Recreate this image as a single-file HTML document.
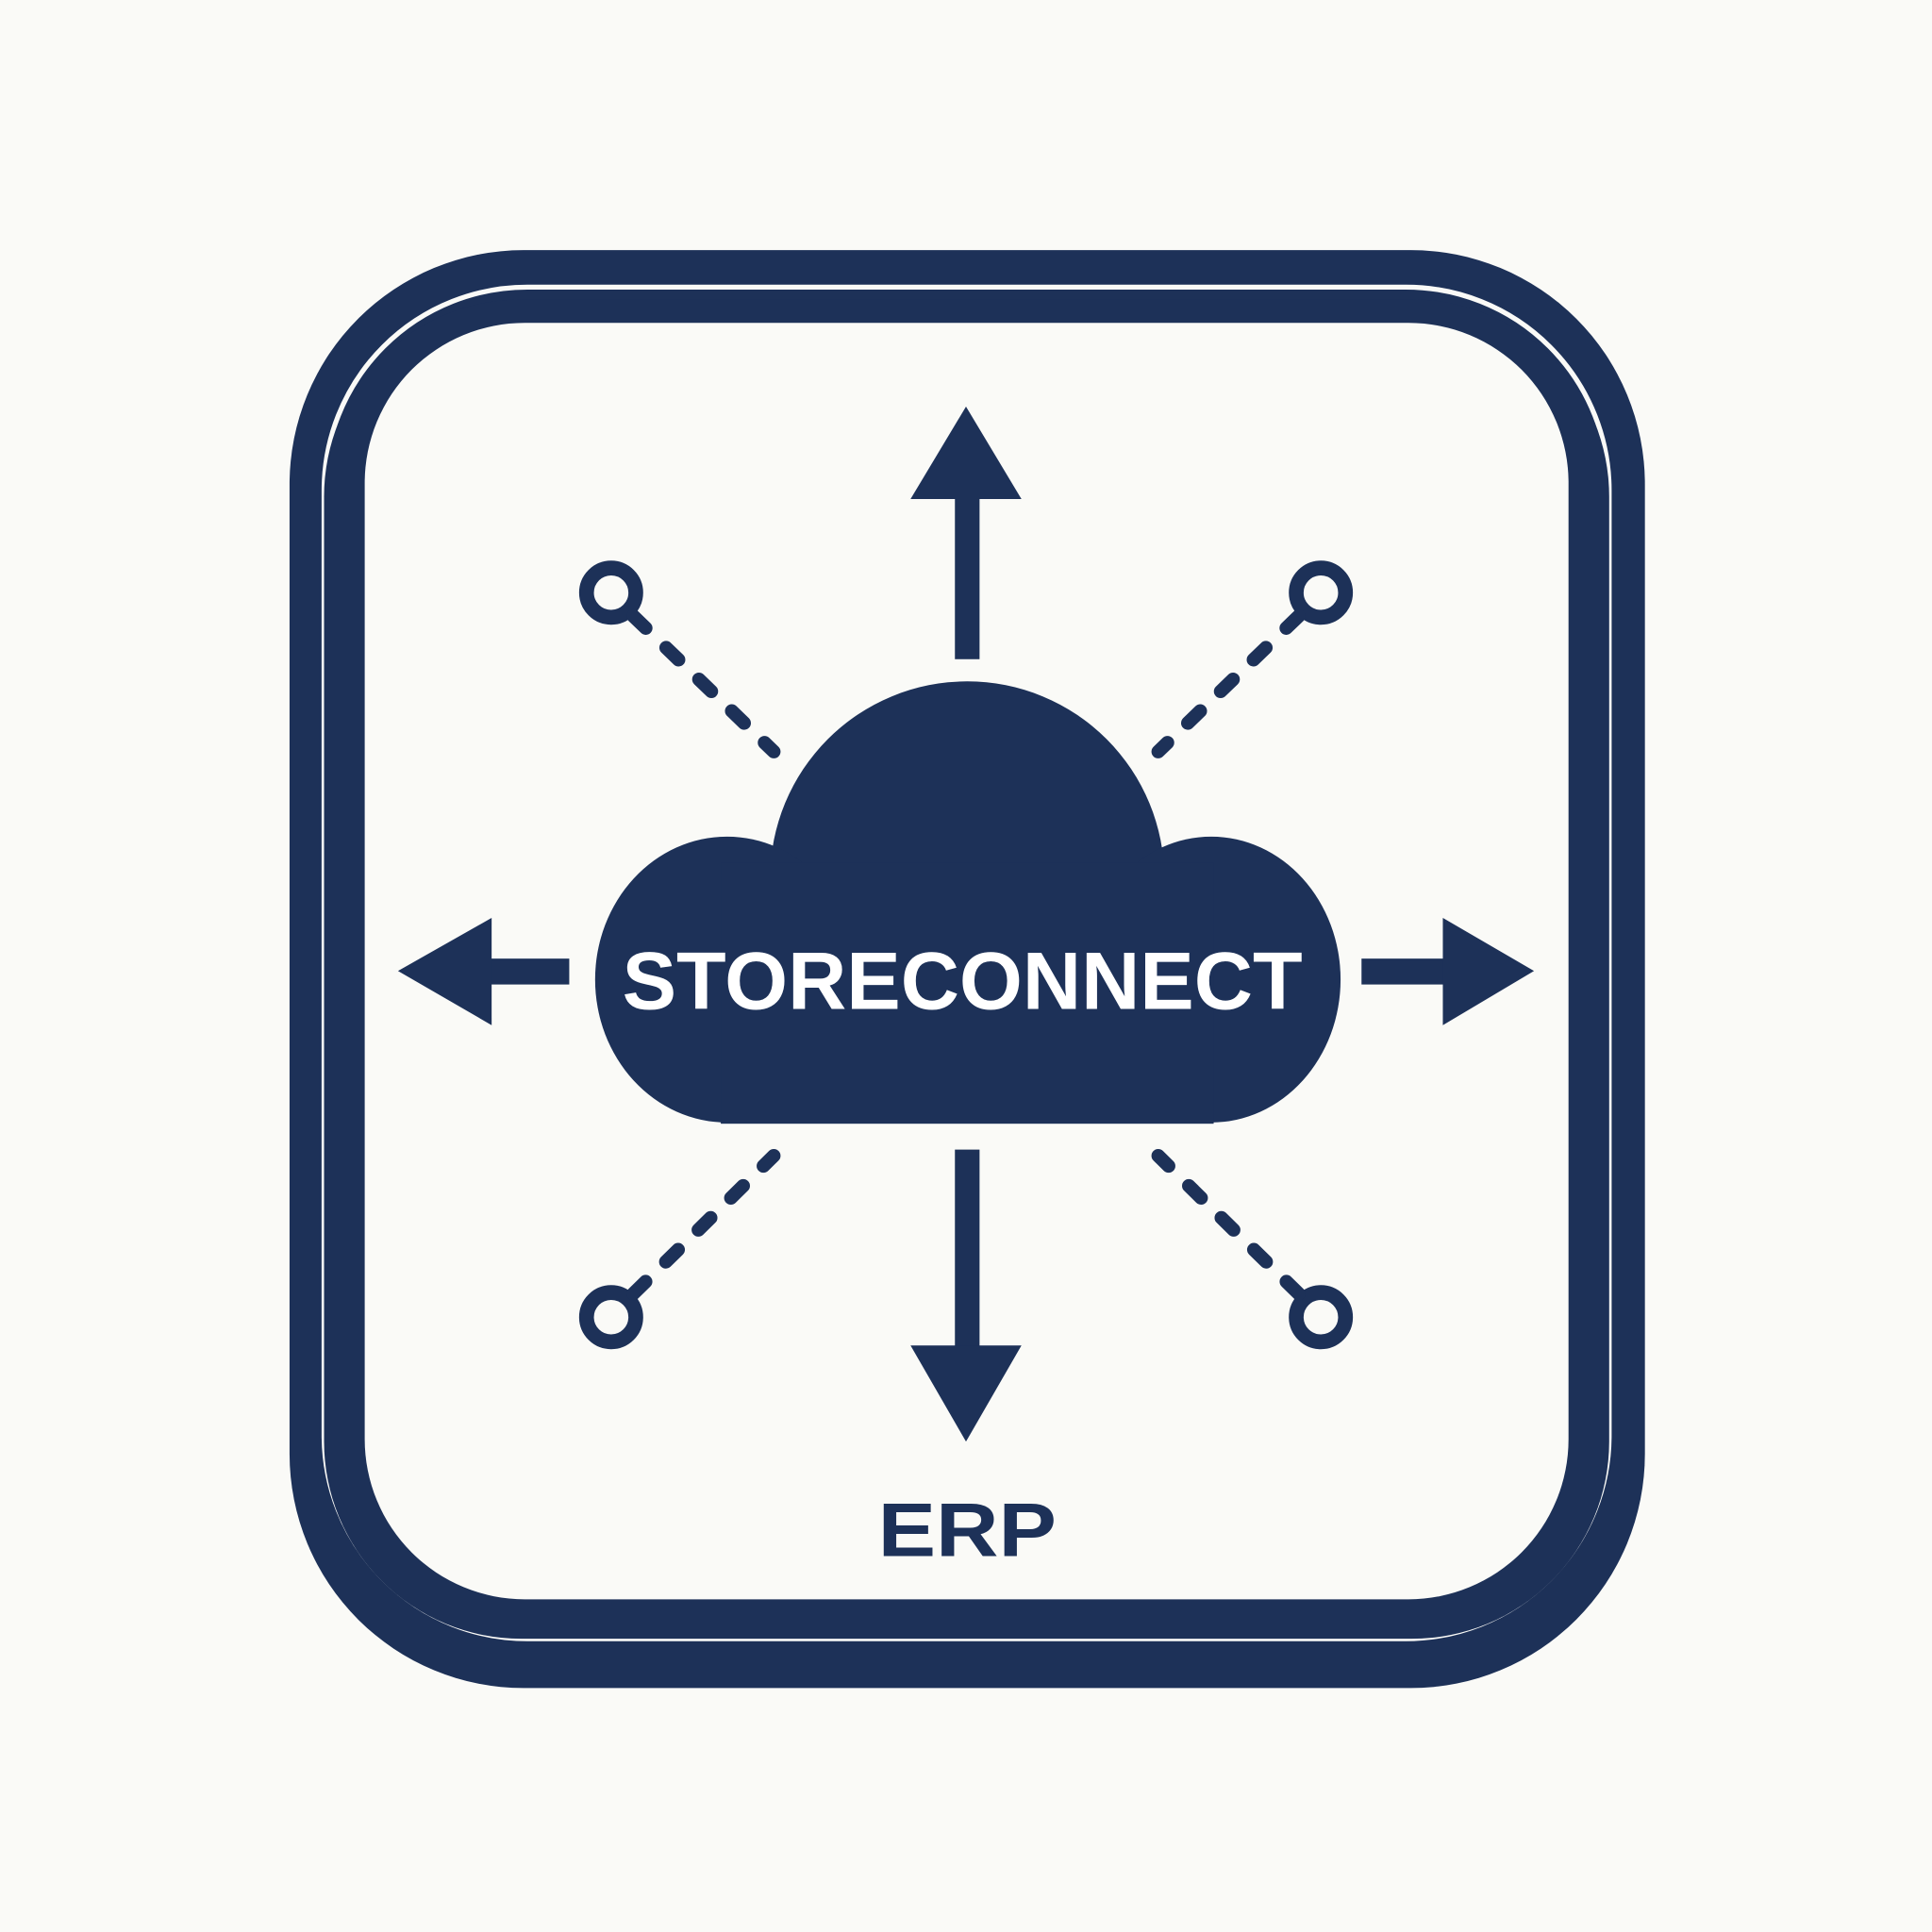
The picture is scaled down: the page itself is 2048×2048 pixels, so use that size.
<!DOCTYPE html>
<html><head><meta charset="utf-8"><style>
html,body{margin:0;padding:0;background:#fafaf7;}
svg{display:block;}
</style></head><body>
<svg width="2048" height="2048" viewBox="0 0 1568 1568" xmlns="http://www.w3.org/2000/svg">
<rect width="1568" height="1568" fill="#fafaf7"/>
<rect x="235" y="203" width="1100" height="1167" rx="190" ry="190" fill="#1d3158"/>
<rect x="263" y="233" width="1043" height="1097" rx="165" ry="165" fill="none" stroke="#fafaf7" stroke-width="4"/>
<rect x="263" y="243" width="1043" height="1087" rx="160" ry="160" fill="#1d3158"/>
<rect x="296" y="262" width="977" height="1036" rx="130" ry="130" fill="#fafaf7"/>

<g fill="#1d3158">
<circle cx="785" cy="713" r="160"/>
<ellipse cx="590" cy="795" rx="107" ry="116"/>
<ellipse cx="983" cy="795" rx="105" ry="116"/>
<rect x="585" y="700" width="400" height="212"/>
<rect x="775" y="400" width="20" height="135"/>
<polygon points="739,405 829,405 784,330"/>
<rect x="775" y="933" width="20" height="165"/>
<polygon points="739,1092 829,1092 784,1170"/>
<rect x="395" y="778" width="67" height="21"/>
<polygon points="399,745 399,832 323,788"/>
<rect x="1105" y="778" width="70" height="21"/>
<polygon points="1171,745 1171,832 1245,788"/>
</g>

<g fill="none" stroke="#1d3158" stroke-width="12">
<circle cx="496" cy="481" r="20"/>
<circle cx="1072" cy="481" r="20"/>
<circle cx="496" cy="1069" r="20"/>
<circle cx="1072" cy="1069" r="20"/>
</g>
<g stroke="#1d3158" stroke-width="11" stroke-linecap="round" stroke-dasharray="14 23">
<line x1="514" y1="500" x2="628" y2="610"/>
<line x1="1054" y1="500" x2="940" y2="610"/>
<line x1="514" y1="1050" x2="628" y2="938"/>
<line x1="1054" y1="1050" x2="940" y2="938"/>
</g>

<text x="781" y="819" text-anchor="middle" font-family="Liberation Sans, sans-serif" font-weight="bold" font-size="66" fill="#ffffff" textLength="552" lengthAdjust="spacingAndGlyphs">STORECONNECT</text>
<text x="785" y="1263" text-anchor="middle" font-family="Liberation Sans, sans-serif" font-weight="bold" font-size="62" fill="#1d3158" textLength="145" lengthAdjust="spacingAndGlyphs">ERP</text>
</svg>
</body></html>
